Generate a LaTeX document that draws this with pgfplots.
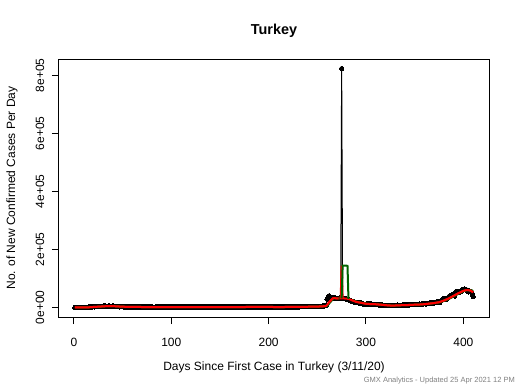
\documentclass[border=0pt]{standalone}
\usepackage{fontspec}
\setmainfont{Liberation Sans}
\usepackage{pgfplots}
\usepackage{pgfplotstable}
\pgfplotsset{compat=1.18}
\definecolor{rgreen}{RGB}{0,100,0}
\definecolor{rred}{RGB}{255,0,0}
\definecolor{footgray}{RGB}{128,128,128}
\pgfplotstableread{
day cases
1 1
2 0
3 4
4 1
5 12
6 29
7 51
8 93
9 168
10 311
11 289
12 293
13 343
14 561
15 1196
16 2069
17 1704
18 1815
19 1610
20 2704
21 2148
22 2456
23 2786
24 3013
25 3135
26 3148
27 3892
28 4117
29 4056
30 4747
31 5138
32 4789
33 4093
34 4062
35 4281
36 4801
37 4353
38 3783
39 3977
40 4674
41 4611
42 3083
43 3116
44 3122
45 2861
46 2357
47 2131
48 2392
49 2936
50 2615
51 2188
52 1983
53 1670
54 1614
55 1832
56 1848
57 1977
58 1848
59 1546
60 1542
61 1114
62 1704
63 1641
64 1635
65 1502
66 1610
67 1368
68 1530
69 1595
70 1492
71 1182
72 961
73 952
74 1141
75 1186
76 1091
77 948
78 1034
79 1182
80 1141
81 987
82 839
83 786
84 867
85 988
86 930
87 989
88 1186
89 1141
90 1195
91 1111
92 1195
93 1459
94 1562
95 1500
96 1592
97 1467
98 1429
99 1304
100 1214
101 1248
102 1195
103 1212
104 1148
105 1174
106 1463
107 1492
108 1458
109 1396
110 1374
111 1356
112 1293
113 1192
114 1041
115 1148
116 1053
117 1083
118 1086
119 1028
120 1082
121 1182
122 1197
123 1016
124 1008
125 992
126 1008
127 928
128 933
129 926
130 919
131 902
132 913
133 935
134 947
135 918
136 957
137 945
138 921
139 924
140 949
141 967
142 979
143 1043
144 1178
145 1203
146 1217
147 1172
148 1077
149 1193
150 1166
151 1127
152 1198
153 1183
154 1226
155 1183
156 1243
157 1212
158 1256
159 1263
160 1303
161 1384
162 1412
163 1407
164 1515
165 1494
166 1501
167 1502
168 1549
169 1502
170 1517
171 1485
172 1491
173 1508
174 1517
175 1509
176 1572
177 1596
178 1671
179 1690
180 1742
181 1761
182 1703
183 1705
184 1741
185 1716
186 1704
187 1629
188 1729
189 1716
190 1724
191 1694
192 1748
193 1771
194 1708
195 1738
196 1767
197 1715
198 1761
199 1767
200 1471
201 1475
202 1445
203 1451
204 1391
205 1412
206 1494
207 1502
208 1542
209 1448
210 1425
211 1522
212 1500
213 1534
214 1556
215 1413
216 1457
217 1716
218 1607
219 1650
220 1672
221 1693
222 1820
223 1703
224 1711
225 1843
226 1904
227 1946
228 2094
229 2118
230 2104
231 2121
232 2157
233 2226
234 2252
235 2262
236 2311
237 2321
238 2427
239 2429
240 2468
241 2469
242 2502
243 2525
244 2504
245 2531
246 2693
247 2896
248 3045
249 3169
250 3310
251 3316
252 3819
253 3856
254 4215
255 4542
256 5103
257 5532
258 6017
259 6814
260 28351
261 29132
262 40000
263 30103
264 29281
265 31219
266 31923
267 32137
268 32381
269 31896
270 30402
271 30110
272 31266
273 32736
274 30424
275 823000
276 32102
277 31410
278 30316
279 29617
280 28926
281 27515
282 26410
283 24396
284 22581
285 21118
286 20316
287 19470
288 18102
289 17244
290 16407
291 16096
292 15805
293 15197
294 14650
295 15221
296 13936
297 12205
298 11180
299 10924
300 10921
301 11302
302 11746
303 12000
304 11856
305 11528
306 11302
307 10641
308 10802
309 10760
310 10320
311 9823
312 9578
313 9107
314 8940
315 8654
316 8340
317 7845
318 7541
319 7238
320 6806
321 6738
322 6662
323 6567
324 6482
325 6298
326 6135
327 6022
328 7056
329 7254
330 7377
331 7562
332 7770
333 7650
334 7558
335 7523
336 7589
337 7816
338 7962
339 8101
340 8424
341 8674
342 8690
343 8791
344 9070
345 9087
346 9160
347 9891
348 9754
349 9506
350 10052
351 9954
352 9924
353 10187
354 10138
355 11302
356 9891
357 11837
358 11520
359 11989
360 12673
361 13030
362 11835
363 14046
364 14556
365 15198
366 15300
367 15600
368 16174
369 15503
370 15333
371 16749
372 18051
373 19796
374 20049
375 19564
376 17690
377 22081
378 26182
379 29263
380 29762
381 30021
382 28497
383 28073
384 32404
385 37303
386 39302
387 40806
388 41714
389 44756
390 42551
391 39302
392 49584
393 54740
394 55941
395 55802
396 52676
397 55149
398 55791
399 59187
400 62797
401 63082
402 61028
403 61467
404 58426
405 53663
406 57000
407 54791
408 53762
409 48814
410 37312
}\daily
\pgfplotstableread{
day avg
1 0
4 2
7 14
10 95
14 294
17 922
21 1892
25 2550
29 3450
33 4405
37 4502
41 4354
45 3635
49 2702
53 2274
57 1850
61 1700
65 1600
69 1530
73 1350
77 1150
81 1070
85 960
89 1000
93 1130
97 1350
101 1420
105 1280
109 1290
113 1350
117 1170
121 1080
125 1050
130 980
135 920
140 935
145 1030
150 1170
155 1200
160 1240
165 1350
170 1470
175 1510
180 1610
185 1710
190 1710
195 1730
200 1740
205 1500
210 1480
215 1510
220 1600
225 1720
230 1940
235 2180
240 2380
245 2500
250 2900
255 3800
258 4700
259 5154
260 8653
261 12213
262 17278
263 20850
264 24243
265 27843
266 31430
267 31971
268 32435
269 31277
270 31320
272 31350
274 31316
275 144262
276 31200
278 30800
280 30200
282 29471
285 25795
290 19320
296 15330
300 12720
305 11468
310 11030
315 9597
320 7909
325 6684
330 6661
335 7528
340 7800
345 8650
350 9400
355 10000
360 11300
365 13100
370 15200
375 17864
380 23513
385 30760
390 39834
395 48954
400 56763
403 59700
405 59950
408 57500
410 51967
}\redavg
\pgfplotstableread{
day avg
2 0
5 2
8 14
11 95
15 294
18 922
22 1892
26 2550
30 3450
34 4405
38 4502
42 4354
46 3635
50 2702
54 2274
58 1850
62 1700
66 1600
70 1530
74 1350
78 1150
82 1070
86 960
90 1000
94 1130
98 1350
102 1420
106 1280
110 1290
114 1350
118 1170
122 1080
126 1050
131 980
136 920
141 935
146 1030
151 1170
156 1200
161 1240
166 1350
171 1470
176 1510
181 1610
186 1710
191 1710
196 1730
201 1740
206 1500
211 1480
216 1510
221 1600
226 1720
231 1940
236 2180
241 2380
246 2500
251 2900
256 3800
259 4700
260 5154
261 8653
262 12213
263 17278
264 20850
265 24243
266 27843
267 31430
268 31971
269 32435
270 31277
271 31320
273 31350
275 31316
276 144262
277 144300
278 144200
279 144000
280 143800
281 143269
282 29471
286 25795
291 19320
297 15330
301 12720
306 11468
311 11030
316 9597
321 7909
326 6684
331 6661
336 7528
341 7800
346 8650
351 9400
356 10000
361 11300
366 13100
371 15200
376 17864
381 23513
386 30760
391 39834
396 48954
401 56763
404 59700
406 59950
409 58500
410 56000
}\greenavg
\begin{document}
\begin{tikzpicture}
\path[use as bounding box] (-59bp,-73bp) rectangle (461bp,317bp);
\begin{axis}[
  at={(0,0)}, anchor=south west,
  scale only axis, width=430bp, height=258bp,
  xmin=-15.36, xmax=426.36, ymin=-32920, ymax=855920,
  clip marker paths=true,
  axis line style={black, line width=1bp},
  tick align=outside, major tick length=7bp,
  xtick pos=bottom, ytick pos=left,
  every tick/.style={black, line width=1bp},
  xtick={0,100,200,300,400}, xticklabels={0,100,200,300,400},
  ytick={0,200000,400000,600000,800000},
  yticklabels={0e+00,2e+05,4e+05,6e+05,8e+05},
  scaled y ticks=false, scaled x ticks=false,
  minor tick num=0,
  tick label style={font=\fontsize{12bp}{14bp}\selectfont},
  xticklabel style={anchor=center, yshift=-18bp},
  yticklabel style={xshift=-12bp, rotate=90, anchor=center},
  title={Turkey},
  every axis title/.style={at={(axis description cs:0.5,1)}, yshift=28bp, anchor=center, font=\bfseries\fontsize{14.4bp}{17bp}\selectfont},
  xlabel={Days Since First Case in Turkey (3/11/20)},
  every axis x label/.style={at={(axis description cs:0.5,0)}, yshift=-50bp, anchor=center, font=\fontsize{12bp}{14bp}\selectfont},
  ylabel={No. of New Confirmed Cases Per Day},
  every axis y label/.style={at={(axis description cs:0,0.5)}, xshift=-47bp, rotate=90, anchor=center, font=\fontsize{12bp}{14bp}\selectfont},
]
\addplot[black, line width=1bp, mark=*, mark size=2.2bp, mark options={fill=black, draw=black, line width=0pt}] table[x=day, y=cases] {\daily};
\addplot[rred, line width=2bp, no marks] table[x=day, y=avg] {\redavg};
\addplot[rgreen, line width=2bp, no marks, restrict x to domain=274:283] table[x=day, y=avg] {\greenavg};
\addplot[rgreen, line width=2bp, no marks, restrict x to domain=0:274] table[x=day, y=avg] {\greenavg};
\addplot[rred, line width=2bp, no marks, restrict x to domain=0:273] table[x=day, y=avg] {\redavg};
\addplot[rgreen, line width=2bp, no marks, restrict x to domain=283:411] table[x=day, y=avg] {\greenavg};
\addplot[rred, line width=2bp, no marks, restrict x to domain=283:411] table[x=day, y=avg] {\redavg};
\end{axis}
\node[anchor=east, text=footgray, font=\fontsize{7.5bp}{9bp}\selectfont, inner sep=0pt] at (456bp,-64bp) {GMX Analytics - Updated  25 Apr 2021 12 PM};
\end{tikzpicture}
\end{document}
